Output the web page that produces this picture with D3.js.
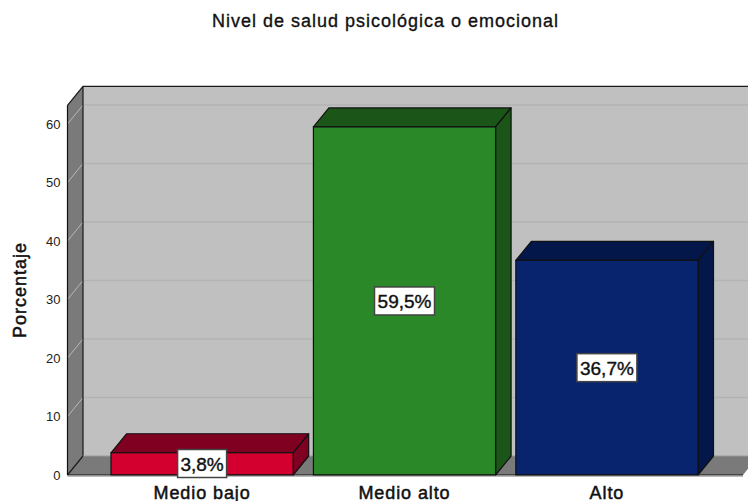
<!DOCTYPE html>
<html><head><meta charset="utf-8">
<script src="https://cdn.jsdelivr.net/npm/d3@7"></script>
<style>html,body{margin:0;padding:0;background:#fff;overflow:hidden}svg{display:block}text{font-family:"Liberation Sans",Arial,sans-serif}</style>
</head><body><svg id="c" width="748" height="501"></svg>
<script>
const categories=["Medio bajo","Medio alto","Alto"];
const values=[3.8,59.5,36.7];
const valueLabels=["3,8%","59,5%","36,7%"];
const frontColors=["#d3002f","#2a8828","#08246f"];
const topColors=["#7f0020","#1c5518","#04174a"];
const sideColors=["#7f0020","#1c5518","#04174a"];
const yTicks=[0,10,20,30,40,50,60];
const chartTitle="Nivel de salud psicológica o emocional";
const yTitle="Porcentaje";

const svg=d3.select("#c");
const dx=15.5,dy=-19;
const y=d3.scaleLinear().domain([0,60]).range([475,124]);
const x=d3.scaleBand().domain(categories).range([111,698]).paddingInner(0.1);
const plotLeft=67.5,plotRight=743,plotTop=y(63.2),base=y(0);
const poly=(p,f,s,w)=>svg.append("polygon").attr("points",p.map(a=>a.join(",")).join(" ")).attr("fill",f).attr("stroke",s||"none").attr("stroke-width",w||0).attr("stroke-linejoin","round");
const heavy=(sel,fs,sw,ls)=>sel.attr("font-size",fs).attr("fill","#111").attr("stroke","#111").attr("stroke-width",sw).attr("letter-spacing",ls);

// walls
svg.append("rect").attr("x",plotLeft+dx).attr("y",plotTop+dy).attr("width",748-plotLeft-dx+20).attr("height",base-plotTop).attr("fill","#c0c0c0");
poly([[plotLeft,plotTop],[plotLeft+dx,plotTop+dy],[plotLeft+dx,base+dy],[plotLeft,base]],"#7a7a7a");
poly([[plotLeft,base],[plotLeft+dx,base+dy],[plotRight+dx,base+dy],[plotRight,base]],"#7a7a7a");
// gridlines
yTicks.forEach(t=>{
  if(t>0)svg.append("line").attr("x1",plotLeft+dx).attr("x2",748).attr("y1",y(t)+dy).attr("y2",y(t)+dy).attr("stroke","#b3b3b3").attr("stroke-width",1.5);
  if(t>0)svg.append("line").attr("x1",plotLeft).attr("x2",plotLeft+dx).attr("y1",y(t)).attr("y2",y(t)+dy).attr("stroke","#b8b8b8").attr("stroke-width",1);
});
// wall outlines
svg.append("path").attr("d",`M${plotLeft},${plotTop}L${plotLeft+dx},${plotTop+dy}L748,${plotTop+dy}M${plotLeft+dx},${plotTop+dy}V${base+dy}L${plotLeft},${base}`).attr("fill","none").attr("stroke","#1a1a1a").attr("stroke-width",1.2);
svg.append("path").attr("d",`M${plotLeft+dx},${base+dy}H748`).attr("fill","none").attr("stroke","#9a9a9a").attr("stroke-width",1);

// bars
categories.forEach((c,i)=>{
  const x0=x(c),x1=x0+x.bandwidth(),yt=y(values[i]);
  poly([[x0,yt],[x0+dx,yt+dy],[x1+dx,yt+dy],[x1,yt]],topColors[i],"#111",1.2);
  poly([[x1,yt],[x1+dx,yt+dy],[x1+dx,base+dy],[x1,base]],sideColors[i],"#111",1.2);
  svg.append("rect").attr("x",x0).attr("y",yt).attr("width",x.bandwidth()).attr("height",base-yt).attr("fill",frontColors[i]).attr("stroke","#111").attr("stroke-width",1.2);
});

// axis
const axis=d3.axisLeft(y).tickValues(yTicks).tickSize(0).tickPadding(7);
const g=svg.append("g").attr("transform",`translate(${plotLeft},0)`).call(axis);
g.select(".domain").attr("d",`M0,${plotTop}V${base}`).attr("stroke","#111").attr("stroke-width",1.2);
g.selectAll("text").attr("font-size",13).attr("fill","#222").style("font-family",'"Liberation Sans",Arial,sans-serif');
svg.append("line").attr("x1",plotLeft).attr("x2",plotRight).attr("y1",base).attr("y2",base).attr("stroke","#111").attr("stroke-width",1.2);
svg.append("line").attr("x1",plotLeft).attr("x2",plotRight).attr("y1",base+1.3).attr("y2",base+1.3).attr("stroke","#aaa").attr("stroke-width",1);

// x labels
categories.forEach(c=>{
  svg.append("text").attr("x",x(c)+x.bandwidth()/2).attr("y",499).attr("text-anchor","middle").call(heavy,18,0.5,0.9).text(c);
});
// value labels
categories.forEach((c,i)=>{
  const cx=x(c)+x.bandwidth()/2;
  const cy=i===0?463.5:y(values[i]/2);
  const w=i===0?49:60;
  svg.append("rect").attr("x",cx-w/2).attr("y",cy-14).attr("width",w).attr("height",28).attr("fill","#fff").attr("stroke","#444").attr("stroke-width",1.5);
  svg.append("text").attr("x",cx).attr("y",cy+7).attr("text-anchor","middle").call(heavy,19,0.4,0).text(valueLabels[i]);
});
svg.append("text").attr("x",385.5).attr("y",27).attr("text-anchor","middle").call(heavy,18,0.35,1).text(chartTitle);
svg.append("text").attr("transform","translate(26,290) rotate(-90)").attr("text-anchor","middle").call(heavy,18,0.5,1).text(yTitle);
</script></body></html>
